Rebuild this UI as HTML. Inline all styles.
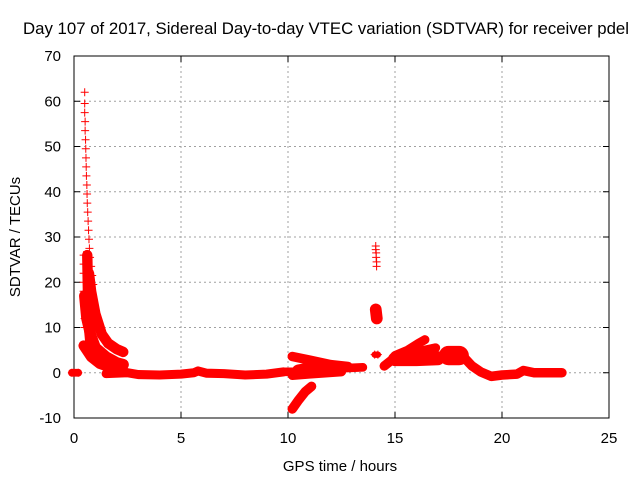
<!DOCTYPE html>
<html><head><meta charset="utf-8"><style>
body{margin:0;background:#fff}
svg{display:block}
text{font-family:"Liberation Sans",sans-serif;font-size:15px;fill:#000}
</style></head><body>
<svg width="640" height="480">
<text x="326" y="34" text-anchor="middle" style="font-size:16.8px">Day 107 of 2017, Sidereal Day-to-day VTEC variation (SDTVAR) for receiver pdel</text>
<g id="grid"></g>
<g id="axes"></g>
<g id="marks"></g>
<text x="340" y="471" text-anchor="middle">GPS time / hours</text>
<text transform="translate(20,237) rotate(-90)" text-anchor="middle">SDTVAR / TECUs</text>
</svg>
<script>
const xTicks=[0,5,10,15,20,25];
const yTicks=[-10,0,10,20,30,40,50,60,70];
const spike=[[0.5,62],[0.5,59.5],[0.5,57.5],[0.52,55.5],[0.52,53.5],[0.54,51.5],[0.55,49.5],[0.56,47.5],[0.57,45.5],[0.58,43.5],[0.6,41.5],[0.61,39.5],[0.62,37.5],[0.64,35.5],[0.66,33.5],[0.68,31.5],[0.7,29.5],[0.72,27.5],[0.75,25.5],[0.8,23.5],[0.85,21.5],[0.9,19.5],[0.45,26],[0.45,24],[0.45,22],[0.45,20],[0.45,18],[0.45,16],[0.5,14],[0.5,12],[0.5,10]];
const spot14=[[14.1,28],[14.1,27.2],[14.12,26.5],[14.12,25.5],[14.14,24.5],[14.14,23.5]];
const tracks=[
 {w:1.2,p:[[0.7,22],[0.8,18],[1.0,13],[1.3,8.5],[1.6,6.5],[2.0,5.2],[2.3,4.6]]},
 {w:1.4,p:[[0.5,17],[0.6,12],[0.8,8],[1.0,5.5],[1.5,3.5],[2.0,2.2],[2.3,1.8]]},
 {w:1.2,p:[[0.45,6],[0.8,3.5],[1.2,2],[1.8,1],[2.3,0.5]]},
 {w:1.2,p:[[0.62,26],[0.65,18],[0.7,10],[0.8,5]]},
 {w:0.6,p:[[-0.1,0],[0.2,0]]},
 {w:0.9,p:[[1.5,-0.2],[2.5,0],[3,-0.4],[4,-0.5],[5,-0.3],[5.6,0],[5.8,0.4],[6.2,-0.1],[7,-0.2],[8,-0.5],[9,-0.3],[9.8,0.2]]},
 {w:0.8,p:[[9.9,0.2],[10.4,0.2]]},
 {w:1.0,p:[[10.2,3.6],[11,2.8],[12,1.8],[12.8,1.4]]},
 {w:2.0,p:[[10.5,0.3],[11,0.7],[11.8,1],[12.4,1]]},
 {w:0.9,p:[[10.2,-0.6],[11,-0.3],[12.5,0.2]]},
 {w:0.8,p:[[12.6,1],[13.5,1.2]]},
 {w:1.0,p:[[10.2,-8],[10.5,-6],[10.8,-4.2],[11.1,-3]]},
 {w:1.5,p:[[14.1,14],[14.15,12]]},
 {w:0.3,p:[[14.05,4],[14.2,4]]},
 {w:1.0,p:[[14.5,1.5],[14.9,3],[15.1,3.5]]},
 {w:0.9,p:[[15,3.8],[15.6,5],[16.1,6.5],[16.4,7.3]]},
 {w:0.9,p:[[15.5,3.8],[16.2,4.8],[16.9,5.5]]},
 {w:2.0,p:[[15,3],[16,3],[17,3.2]]},
 {w:3.2,p:[[17.5,3.8],[18.0,3.8]]},
 {w:1.0,p:[[18.3,3],[18.6,1.5],[19,0.2],[19.5,-0.8],[20,-0.5],[20.7,-0.3],[21,0.5],[21.5,0],[22.8,0]]}
];
const X0=74,X1=609,Y0=418,Y1=56;
const xs=v=>X0+(v-0)/25*(X1-X0);
const ys=v=>Y0-(v+10)/80*(Y0-Y1);
const NS="http://www.w3.org/2000/svg";
function mk(t,a,parent){const e=document.createElementNS(NS,t);for(const k in a)e.setAttribute(k,a[k]);parent.appendChild(e);return e;}
const grid=document.getElementById('grid'),axes=document.getElementById('axes'),marks=document.getElementById('marks');
xTicks.forEach(v=>{
 if(v>0&&v<25){const l=mk('line',{x1:xs(v),x2:xs(v),y1:Y1,y2:Y0,stroke:'#a0a0a0','stroke-dasharray':'2,3'},grid);
 
 }
 mk('line',{x1:xs(v),x2:xs(v),y1:Y0,y2:Y0-6,stroke:'#000'},axes);
 mk('line',{x1:xs(v),x2:xs(v),y1:Y1,y2:Y1+6,stroke:'#000'},axes);
 const t=mk('text',{x:xs(v),y:Y0+25,'text-anchor':'middle'},axes);t.textContent=v;
 
 
});
yTicks.forEach(v=>{
 if(v>-10&&v<70){const l=mk('line',{x1:X0,x2:X1,y1:ys(v),y2:ys(v),stroke:'#a0a0a0','stroke-dasharray':'2,3'},grid);
 
 }
 mk('line',{x1:X0,x2:X0+6,y1:ys(v),y2:ys(v),stroke:'#000'},axes);
 mk('line',{x1:X1,x2:X1-6,y1:ys(v),y2:ys(v),stroke:'#000'},axes);
 const t=mk('text',{x:X0-13,y:ys(v)+5,'text-anchor':'end'},axes);t.textContent=v;
 
 
});
const b=mk('rect',{x:X0,y:Y1,width:X1-X0,height:Y0-Y1,fill:'none',stroke:'#000'},axes);


function plus(x,y){const s=mk('path',{d:`M${xs(x)-4},${ys(y)}h8M${xs(x)},${ys(y)-4}v8`,stroke:'#f00','stroke-width':1},marks);
 
 }
tracks.forEach(tr=>{
 const d=tr.p.map((q,i)=>(i?'L':'M')+xs(q[0])+','+ys(q[1])).join('');
 const pl=mk('path',{d:d,fill:'none',stroke:'#f00','stroke-width':tr.w*4.5+5,'stroke-linecap':'round','stroke-linejoin':'round'},marks);
 
 
 tr.p.forEach(q=>plus(q[0],q[1]));
});
spike.forEach(q=>plus(q[0],q[1]));
spot14.forEach(q=>plus(q[0],q[1]));
</script>
</body></html>
